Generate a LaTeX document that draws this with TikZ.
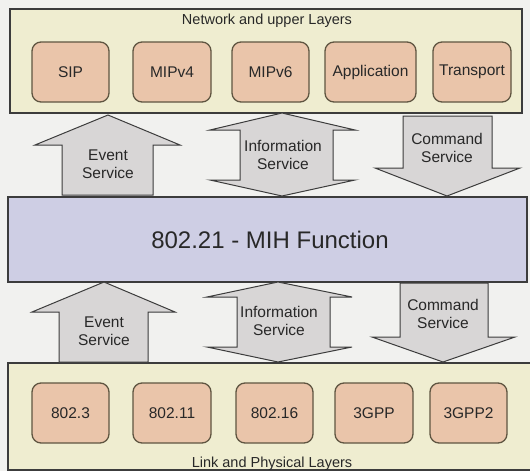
\documentclass[tikz,border=0pt]{standalone}
\usepackage{fontspec}
\setmainfont{Liberation Sans}
\definecolor{bgc}{RGB}{241,241,239}
\definecolor{panelc}{RGB}{239,237,208}
\definecolor{boxc}{RGB}{234,197,170}
\definecolor{boxline}{RGB}{95,85,65}
\definecolor{mihc}{RGB}{206,206,228}
\definecolor{arrc}{RGB}{216,214,214}
\definecolor{linec}{RGB}{60,60,60}
\definecolor{txtc}{RGB}{40,40,40}
\begin{document}
\begin{tikzpicture}[x=1pt,y=-1pt,
  panel/.style={draw=linec,line width=1.3pt,fill=panelc},
  layerbox/.style={draw=boxline,line width=1.3pt,fill=boxc,rounded corners=9pt,
    minimum height=60pt,text=txtc,font=\fontsize{15.5}{18}\selectfont,inner sep=0pt},
  blockarrow/.style={draw=linec,line width=1pt,fill=arrc,line join=miter},
  lbl/.style={text=txtc,font=\fontsize{15.5}{17.5}\selectfont,align=center,inner sep=0pt},
  title/.style={text=txtc,font=\fontsize{14.5}{17}\selectfont,inner sep=0pt}]
\useasboundingbox (0,0) rectangle (530,471);
\fill[bgc] (0,0) rectangle (530,471);
% top panel
\draw[panel] (10,9) rectangle (522,113);
\node[title] (toptitle) at (267,21) {Network and upper Layers};
\node[layerbox,minimum width=77pt] (sip) at (70.5,72) {SIP};
\node[layerbox,minimum width=78pt] (mip4) at (172,72) {MIPv4};
\node[layerbox,minimum width=77pt] (mip6) at (270.5,72) {MIPv6};
\node[layerbox,minimum width=91pt] (app) at (370.5,72) {Application};
\node[layerbox,minimum width=78pt] (trans) at (472,72) {Transport};
% MIH
\draw[draw=linec,line width=1.3pt,fill=mihc] (8,197) rectangle (527,282);
\node[text=txtc,font=\fontsize{24}{27}\selectfont,inner sep=0pt] (mih) at (270,240) {802.21 - MIH Function};
% bottom panel
\draw[panel] (8,363) rectangle (540,470);
\node[title] (bottitle) at (272,464) {Link and Physical Layers};
\node[layerbox,minimum width=77pt] (e3) at (70.5,413) {802.3};
\node[layerbox,minimum width=78pt] (e11) at (172,413) {802.11};
\node[layerbox,minimum width=77pt] (e16) at (274.5,413) {802.16};
\node[layerbox,minimum width=78pt] (g3) at (374,413) {3GPP};
\node[layerbox,minimum width=77pt] (g32) at (468.5,413) {3GPP2};
% upper arrows
\draw[blockarrow] (62,195) -- (62,145) -- (35,145) -- (108,115) -- (180,145) -- (153,145) -- (153,195) -- cycle;
\node[lbl] (evu) at (108,164) {Event\\Service};
\draw[blockarrow] (282,113) -- (355,130) -- (333,130) -- (333,180) -- (355,180) -- (282,196) -- (210,180) -- (240,180) -- (240,130) -- (210,130) -- cycle;
\node[lbl] (infu) at (283,155) {Information\\Service};
\draw[blockarrow] (403,116) -- (492,116) -- (492,168) -- (520,168) -- (447,196) -- (375,168) -- (403,168) -- cycle;
\node[lbl] (cmdu) at (447,148) {Command\\Service};
% lower arrows
\draw[blockarrow] (59,362) -- (59,312) -- (32,312) -- (104,282) -- (175,312) -- (148,312) -- (148,362) -- cycle;
\node[lbl] (evd) at (104,331) {Event\\Service};
\draw[blockarrow] (278,282) -- (352,297) -- (330,297) -- (330,347) -- (352,347) -- (278,362) -- (207,347) -- (237,347) -- (237,297) -- (207,297) -- cycle;
\node[lbl] (infd) at (279,321) {Information\\Service};
\draw[blockarrow] (400,283) -- (488,283) -- (488,337) -- (515,337) -- (443,362) -- (372,337) -- (400,337) -- cycle;
\node[lbl] (cmdd) at (443,314) {Command\\Service};
\end{tikzpicture}
\end{document}
